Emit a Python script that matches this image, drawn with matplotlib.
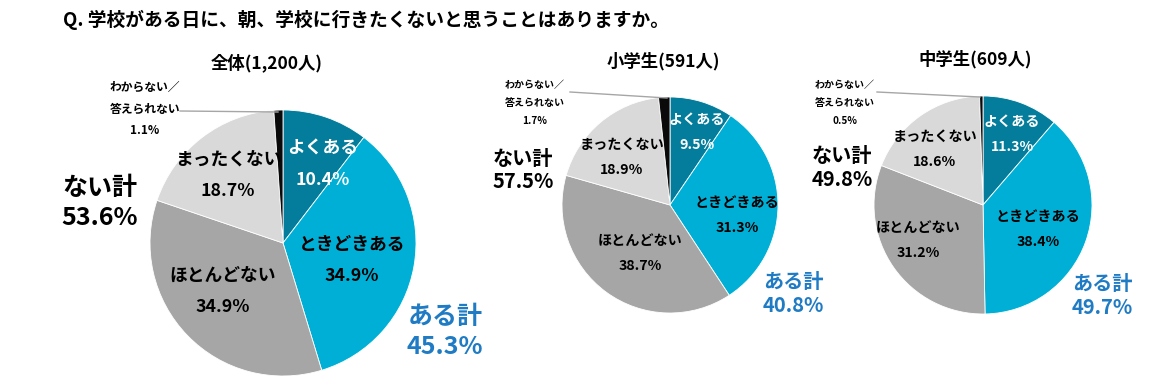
import matplotlib.pyplot as plt
from matplotlib.lines import Line2D

plt.rcParams['font.family'] = ['Noto Sans CJK JP', 'DejaVu Sans']

W, H = 1150, 391

# データ
categories = ['よくある', 'ときどきある', 'ほとんどない', 'まったくない', 'わからない／\n答えられない']
groups = ['全体(1,200人)', '小学生(591人)', '中学生(609人)']
values = {
    '全体(1,200人)': [10.4, 34.9, 34.9, 18.7, 1.1],
    '小学生(591人)': [9.5, 31.3, 38.7, 18.9, 1.7],
    '中学生(609人)': [11.3, 38.4, 31.2, 18.6, 0.5],
}
aru_total = [45.3, 40.8, 49.7]
nai_total = [53.6, 57.5, 49.8]

colors = ['#037d9b', '#00afd6', '#a6a6a6', '#d9d9d9', '#0a0a0a']
text_colors = ['white', 'black', 'black', 'black']
blue = '#1f7bc4'

# レイアウト (ピクセル)
centers = [(283, 243), (670, 205), (983, 205)]
radii = [133, 108, 109]
title_pos = [(267, 63), (663, 61), (975, 59)]
big = [12.8, 10.2, 10.2]
small = [8.5, 7.2, 7.2]
total_fs = [18, 14.5, 14.5]
line_gap = [31, 25, 25]
# ラベル中心 (よくある, ときどきある, ほとんどない, まったくない)
label_pos = [
    [(323, 149), (352, 245), (223, 276), (228, 160)],
    [(697, 120), (737, 203), (640, 241), (622, 145)],
    [(1012, 122), (1038, 217), (918, 228), (935, 137)],
]
dk_pos = [(145, 87), (535, 85), (845, 85)]
dk_gap = [22, 18, 18]
leader = [((180, 111), (278, 112)), ((570, 92), (667, 98)), ((877, 92), (980, 97))]
nai_pos = [(100, 188), (523, 158), (842, 155)]
aru_pos = [(445, 317), (793, 282), (1102, 283)]


def fx(x, y):
    return x / W, 1 - y / H


fig = plt.figure(figsize=(W / 100, H / 100), dpi=100)

fig.text(*fx(63, 20), 'Q. 学校がある日に、朝、学校に行きたくないと思うことはありますか。',
         fontsize=13.5, fontweight='bold', ha='left', va='center')

for i, g in enumerate(groups):
    cx, cy = centers[i]
    r = radii[i]
    ax = fig.add_axes([(cx - r) / W, 1 - (cy + r) / H, 2 * r / W, 2 * r / H])
    ax.pie(values[g], colors=colors, startangle=90, counterclock=False, radius=1,
           wedgeprops=dict(edgecolor='white', linewidth=0.6))
    ax.set_xlim(-1, 1)
    ax.set_ylim(-1, 1)
    ax.set_aspect('auto')
    ax.axis('off')

    fig.text(*fx(*title_pos[i]), g, fontsize=12.5, fontweight='bold', ha='center', va='center')

    for k in range(4):
        x, y = label_pos[i][k]
        fig.text(*fx(x, y), categories[k], fontsize=big[i], fontweight='bold',
                 color=text_colors[k], ha='center', va='center')
        fig.text(*fx(x, y + line_gap[i]), f'{values[g][k]:.1f}%',
                 fontsize=big[i], fontweight='bold', color=text_colors[k], ha='center', va='center')

    x, y = dk_pos[i]
    for j, t in enumerate(['わからない／', '答えられない', f'{values[g][4]:.1f}%']):
        fig.text(*fx(x, y + j * dk_gap[i]), t, fontsize=small[i], fontweight='bold',
                 ha='center', va='center')
    (x0, y0), (x1, y1) = leader[i]
    fig.add_artist(Line2D([x0 / W, x1 / W], [1 - y0 / H, 1 - y1 / H],
                          transform=fig.transFigure, color='#a6a6a6', lw=1))

    x, y = nai_pos[i]
    fig.text(*fx(x, y), 'ない計', fontsize=total_fs[i], fontweight='bold', ha='center', va='center')
    fig.text(*fx(x, y + line_gap[i] - 1), f'{nai_total[i]:.1f}%', fontsize=total_fs[i],
             fontweight='bold', ha='center', va='center')
    x, y = aru_pos[i]
    fig.text(*fx(x, y), 'ある計', fontsize=total_fs[i], fontweight='bold', color=blue,
             ha='center', va='center')
    fig.text(*fx(x, y + line_gap[i] - 1), f'{aru_total[i]:.1f}%', fontsize=total_fs[i],
             fontweight='bold', color=blue, ha='center', va='center')

fig.savefig('out.png', dpi=100)
